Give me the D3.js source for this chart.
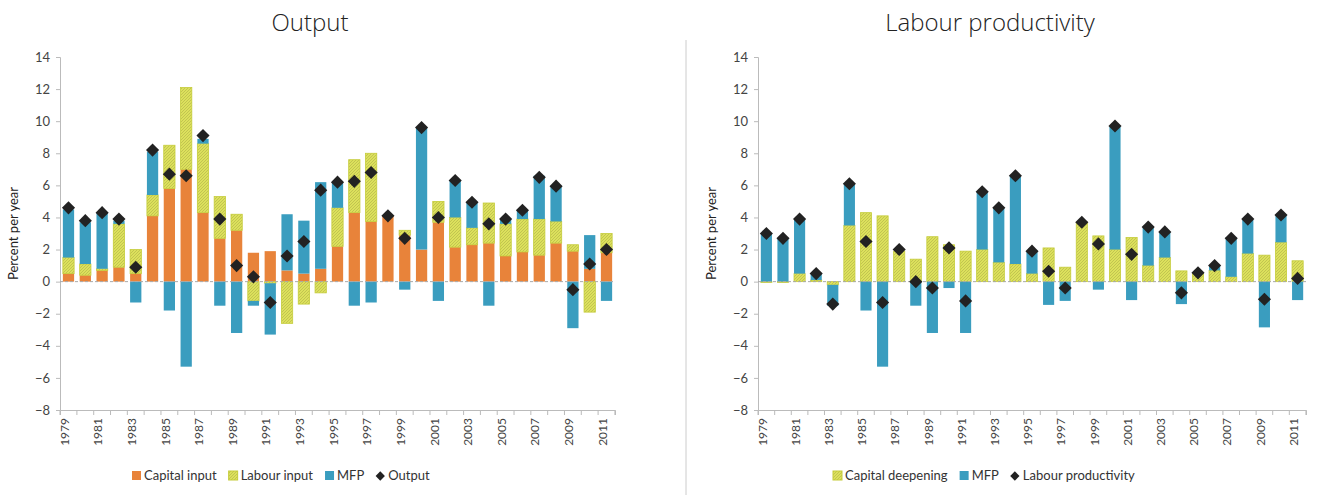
<!DOCTYPE html>
<html><head><meta charset="utf-8">
<script src="https://cdn.jsdelivr.net/npm/d3@7"></script>
<style>body{margin:0;background:#fff;font-family:Lato,"Noto Sans",sans-serif;}</style>
</head><body>
<script>
const years = d3.range(1979, 2012);

// Output panel
const capitalInput = [0.5,0.4,0.7,0.9,0.5,4.1,5.8,7.0,4.3,2.7,3.2,1.8,1.9,0.7,0.5,0.8,2.2,4.3,3.75,4.1,2.9,2.0,3.7,2.15,2.3,2.4,1.6,1.85,1.65,2.4,1.9,0.8,1.8];
const labourInput  = [1.0,0.7,0.1,2.7,1.5,1.3,2.7,5.1,4.3,2.6,1.0,-1.2,-0.1,-2.6,-1.4,-0.7,2.4,3.3,4.25,0,0.3,0,1.3,1.85,1.05,2.5,2.0,2.05,2.25,1.35,0.4,-1.9,1.2];
const mfpOutput    = [3.0,2.6,3.5,0.2,-1.3,2.7,-1.8,-5.3,0.3,-1.5,-3.2,-0.3,-3.2,3.5,3.3,5.4,1.6,-1.5,-1.3,0,-0.5,7.6,-1.2,2.3,1.6,-1.5,0.3,0.55,2.7,2.2,-2.9,2.1,-1.2];
const output       = [4.6,3.8,4.3,3.9,0.9,8.2,6.7,6.6,9.1,3.9,1.0,0.3,-1.3,1.6,2.5,5.7,6.2,6.25,6.8,4.1,2.7,9.6,4.0,6.3,4.95,3.6,3.9,4.45,6.5,5.95,-0.5,1.1,2.0];

// Labour productivity panel
const capitalDeepening = [-0.05,-0.05,0.5,0.1,-0.2,3.5,4.3,4.1,1.9,1.4,2.8,2.3,1.9,2.0,1.2,1.1,0.5,2.1,0.9,3.7,2.85,2.0,2.75,1.0,1.5,0.67,0.55,0.7,0.3,1.75,1.65,2.45,1.3];
const mfpLP            = [3.0,2.7,3.4,0.4,-1.3,2.6,-1.8,-5.3,0,-1.5,-3.2,-0.4,-3.2,3.6,3.4,5.5,1.4,-1.45,-1.2,0,-0.5,7.65,-1.15,2.4,1.6,-1.4,0,0.3,2.45,2.1,-2.85,1.7,-1.15];
const labourProd       = [3.0,2.7,3.9,0.5,-1.4,6.1,2.5,-1.3,2.0,0.0,-0.4,2.1,-1.2,5.6,4.6,6.6,1.9,0.65,-0.4,3.7,2.35,9.7,1.7,3.4,3.1,-0.7,0.55,1.0,2.7,3.9,-1.1,4.15,0.2];

const yTicks = d3.range(-8, 16, 2);
const xTickLabels = years.filter((y, i) => i % 2 === 0);

const colors = {orange: "#E8833A", blue: "#3A9DBF", yellow: "#DCE15C"};

const W = 1317, H = 495;
const svg = d3.select("body").append("svg").attr("width", W).attr("height", H);

const defs = svg.append("defs");
const pat = defs.append("pattern").attr("id", "hatch").attr("patternUnits", "userSpaceOnUse")
    .attr("width", 3).attr("height", 3);
pat.append("rect").attr("width", 3).attr("height", 3).attr("fill", colors.yellow);
pat.append("path").attr("d", "M0,3 L3,0").attr("stroke", "#b8b84a").attr("stroke-width", 0.7);

svg.append("line").attr("x1", 686).attr("x2", 686).attr("y1", 40).attr("y2", 495)
    .attr("stroke", "#ccc");

function panel(opts) {
    const y = d3.scaleLinear().domain([-8, 14]).range([410, 57]);
    const x = d3.scaleBand().domain(years).range([opts.x0, opts.x1]).paddingInner(0.33).paddingOuter(0.17);
    const g = svg.append("g");

    g.append("text").attr("x", opts.titleX).attr("y", 31).attr("text-anchor", "middle")
        .style("font-size", "24px").style("font-family", "'Open Sans', sans-serif").style("font-weight", 300)
        .attr("fill", "#222").text(opts.title);

    // y axis
    const ya = g.append("g").attr("transform", `translate(${opts.x0},0)`)
        .call(d3.axisLeft(y).tickValues(yTicks).tickSize(4).tickPadding(6));
    ya.selectAll("text").style("font-size", "13px").attr("fill", "#444").style("font-family", "Lato, sans-serif");
    ya.selectAll("line,path").attr("stroke", "#bbb");

    g.append("text").attr("transform", `translate(${opts.labelX},${y(3)}) rotate(-90)`)
        .attr("text-anchor", "middle").style("font-size", "13px").attr("fill", "#222")
        .text("Percent per year");

    // x axis
    const xa = g.append("g").attr("transform", `translate(0,${y(-8)})`)
        .call(d3.axisBottom(x).tickSize(5).tickFormat(d => xTickLabels.includes(d) ? d : ""));
    xa.selectAll("line,path").attr("stroke", "#bbb");
    xa.selectAll(".tick line").attr("transform", `translate(${x.step()/2},0)`);
    xa.selectAll("text").attr("transform", "rotate(-90)").attr("text-anchor", "end")
        .attr("x", -8).attr("y", -4).attr("dy", "0.35em")
        .style("font-size", "12px").attr("fill", "#444").style("font-family", "Lato, sans-serif");
    xa.append("line").attr("x1", x.range()[0]).attr("x2", x.range()[0]).attr("y1", 0).attr("y2", 5).attr("stroke", "#bbb");

    // stacked bars (diverging)
    years.forEach((yr, i) => {
        let pos = 0, neg = 0;
        opts.series.forEach(s => {
            const v = s.values[i];
            if (v === 0) return;
            let a, b;
            if (v >= 0) { a = pos; b = pos + v; pos = b; } else { a = neg; b = neg + v; neg = b; }
            g.append("rect").attr("x", x(yr)).attr("width", x.bandwidth())
                .attr("y", y(Math.max(a, b))).attr("height", Math.abs(y(a) - y(b)))
                .attr("fill", s.fill).attr("stroke", s.stroke || "none").attr("stroke-width", 0.8);
        });
    });

    g.append("line").attr("x1", opts.x0).attr("x2", opts.x1).attr("y1", y(0)).attr("y2", y(0))
        .attr("stroke", "#aaa").attr("stroke-dasharray", "3,2");

    const diamond = d3.symbol().type(d3.symbolDiamond2).size(110);
    g.selectAll(".pt").data(opts.points).join("path")
        .attr("transform", (d, i) => `translate(${x(years[i]) + x.bandwidth()/2},${y(d)})`)
        .attr("d", diamond).attr("fill", "#222");

    // legend
    let lx = opts.legendX;
    opts.legend.forEach(l => {
        if (l.diamond) {
            g.append("path").attr("transform", `translate(${lx + 4},476)`)
                .attr("d", d3.symbol().type(d3.symbolDiamond2).size(55)).attr("fill", "#222");
        } else {
            g.append("rect").attr("x", lx).attr("y", 471).attr("width", 9).attr("height", 9)
                .attr("fill", l.fill).attr("stroke", l.stroke || "none");
        }
        const t = g.append("text").attr("x", lx + 12).attr("y", 480).style("font-size", "13px")
            .attr("fill", "#333").text(l.name);
        lx += 12 + t.node().getComputedTextLength() + 12;
    });
}

panel({
    x0: 60, x1: 615, titleX: 310, title: "Output", labelX: 18, legendX: 132,
    series: [
        {values: capitalInput, fill: colors.orange},
        {values: labourInput, fill: "url(#hatch)", stroke: "#c5cc3a"},
        {values: mfpOutput, fill: colors.blue}
    ],
    points: output,
    legend: [
        {name: "Capital input", fill: colors.orange},
        {name: "Labour input", fill: "url(#hatch)", stroke: "#c5cc3a"},
        {name: "MFP", fill: colors.blue},
        {name: "Output", diamond: true}
    ]
});

panel({
    x0: 758, x1: 1306, titleX: 990, title: "Labour productivity", labelX: 716, legendX: 833,
    series: [
        {values: capitalDeepening, fill: "url(#hatch)", stroke: "#c5cc3a"},
        {values: mfpLP, fill: colors.blue}
    ],
    points: labourProd,
    legend: [
        {name: "Capital deepening", fill: "url(#hatch)", stroke: "#c5cc3a"},
        {name: "MFP", fill: colors.blue},
        {name: "Labour productivity", diamond: true}
    ]
});
</script>
</body></html>
